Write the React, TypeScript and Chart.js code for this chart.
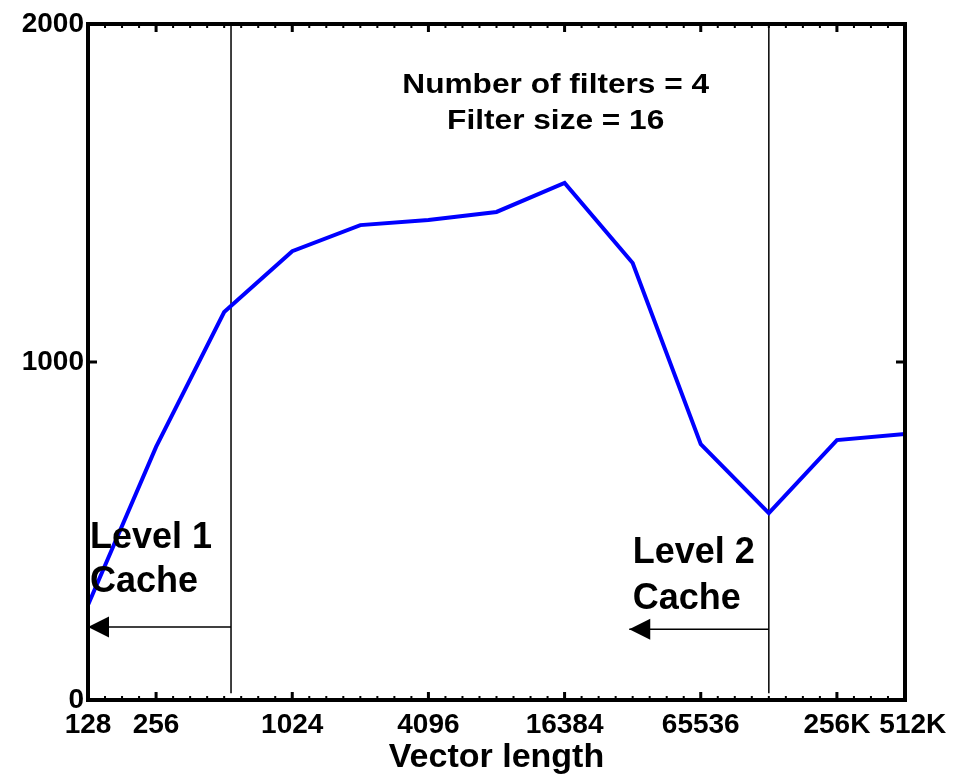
import React, { useEffect, useRef } from "react";
import { Chart, registerables } from "chart.js";

Chart.register(...registerables);

// ---- data ----
const vectorLengths = [128, 256, 512, 1024, 2048, 4096, 8192, 16384, 32768, 65536, 131072, 262144, 524288];
const throughput = [281, 749, 1148, 1328, 1405, 1420, 1444, 1530, 1293, 757, 553, 769, 787];

const xTickValues = [128, 256, 1024, 4096, 16384, 65536, 262144, 524288];
const xTickLabels = ["128", "256", "1024", "4096", "16384", "65536", "256K", "  512K"];
const yTickValues = [0, 1000, 2000];
const yTickLabels = ["0", "1000", "2000"];

// cache boundary vertical lines (vector length) and their vertical extent
const cacheBoundaries = [549, 131072];
const boundaryRange = [20, 2000];

// arrows: start (boundary), tip, height
const arrowFrom = [549, 131072];
const arrowTo = [128, 31650];
const arrowY = [216, 209];

// cache labels
const cacheLabelLines = [["Level 1", "Cache"], ["Level 2", "Cache"]];
const cacheLabelX = [130.7, 32768];
const cacheLabelY = [[450, 320], [405, 269]];

// parameter annotation
const paramLines = ["Number of filters = 4", "Filter size = 16"];
const paramX = 14970;
const paramY = [1796, 1689];

const FONT = '"Liberation Sans", Arial, Helvetica, sans-serif';

const decorPlugin = {
  id: "decor",
  afterDatasetsDraw(chart: any) {
    const { ctx, chartArea: a, scales } = chart;
    const x = scales.x;
    const y = scales.y;
    ctx.save();
    ctx.strokeStyle = "#000";
    ctx.fillStyle = "#000";

    // minor ticks (quarter octave)
    ctx.lineWidth = 2;
    const majorSet = new Set(xTickValues.map((v) => Math.round(Math.log2(v) * 4)));
    for (let k = 28; k <= 76; k++) {
      if (majorSet.has(k)) continue;
      const px = x.getPixelForValue(Math.pow(2, k / 4));
      if (px <= a.left + 2 || px >= a.right - 2) continue;
      ctx.beginPath();
      ctx.moveTo(px, a.bottom);
      ctx.lineTo(px, a.bottom - 4);
      ctx.moveTo(px, a.top);
      ctx.lineTo(px, a.top + 4);
      ctx.stroke();
    }

    // major ticks
    ctx.lineWidth = 3;
    for (const v of xTickValues) {
      const px = x.getPixelForValue(v);
      ctx.beginPath();
      ctx.moveTo(px, a.bottom);
      ctx.lineTo(px, a.bottom - 8);
      ctx.moveTo(px, a.top);
      ctx.lineTo(px, a.top + 8);
      ctx.stroke();
    }
    for (const v of yTickValues) {
      const py = y.getPixelForValue(v);
      ctx.beginPath();
      ctx.moveTo(a.left, py);
      ctx.lineTo(a.left + 9, py);
      ctx.moveTo(a.right, py);
      ctx.lineTo(a.right - 9, py);
      ctx.stroke();
    }

    // frame
    ctx.lineWidth = 4;
    ctx.strokeRect(a.left, a.top, a.right - a.left, a.bottom - a.top);

    // arrowheads
    for (let i = 0; i < arrowTo.length; i++) {
      const tx = x.getPixelForValue(arrowTo[i]);
      const ty = y.getPixelForValue(arrowY[i]);
      ctx.beginPath();
      ctx.moveTo(tx, ty);
      ctx.lineTo(tx + 21, ty - 10.5);
      ctx.lineTo(tx + 21, ty + 10.5);
      ctx.closePath();
      ctx.fill();
    }

    // cache labels
    ctx.font = `bold 36px ${FONT}`;
    ctx.textAlign = "left";
    ctx.textBaseline = "alphabetic";
    for (let i = 0; i < cacheLabelLines.length; i++) {
      const px = x.getPixelForValue(cacheLabelX[i]);
      cacheLabelLines[i].forEach((t, j) => {
        ctx.fillText(t, px, y.getPixelForValue(cacheLabelY[i][j]));
      });
    }

    // parameter annotation (slightly wide lettering, as in the original)
    ctx.font = `bold 28px ${FONT}`;
    ctx.textAlign = "center";
    const cx = x.getPixelForValue(paramX);
    const sx = 1.13;
    paramLines.forEach((t, j) => {
      ctx.save();
      ctx.translate(cx, y.getPixelForValue(paramY[j]));
      ctx.scale(sx, 1);
      ctx.fillText(t, 0, 0);
      ctx.restore();
    });

    ctx.restore();
  },
};

export default function App() {
  const ref = useRef<HTMLCanvasElement | null>(null);

  useEffect(() => {
    if (!ref.current) return;
    const datasets: any[] = [
      {
        label: "Throughput",
        data: vectorLengths.map((v, i) => ({ x: v, y: throughput[i] })),
        borderColor: "#0000ff",
        borderWidth: 4,
        pointRadius: 0,
        tension: 0,
        borderJoinStyle: "miter",
      },
    ];
    cacheBoundaries.forEach((b) => {
      datasets.push({
        label: "boundary",
        data: boundaryRange.map((yy) => ({ x: b, y: yy })),
        borderColor: "#000",
        borderWidth: 1.5,
        pointRadius: 0,
      });
    });
    arrowFrom.forEach((f, i) => {
      datasets.push({
        label: "arrow",
        data: [
          { x: f, y: arrowY[i] },
          { x: arrowTo[i], y: arrowY[i] },
        ],
        borderColor: "#000",
        borderWidth: 1.5,
        pointRadius: 0,
      });
    });

    const chart = new Chart(ref.current, {
      type: "line",
      data: { datasets },
      plugins: [decorPlugin],
      options: {
        animation: false,
        responsive: false,
        maintainAspectRatio: false,
        layout: { padding: { top: 24, right: 64, left: 0, bottom: 0 } },
        plugins: { legend: { display: false }, tooltip: { enabled: false } },
        scales: {
          x: {
            type: "logarithmic",
            min: 128,
            max: 524288,
            grid: { display: false, drawTicks: false },
            border: { display: false },
            afterBuildTicks: (s: any) => {
              s.ticks = xTickValues.map((v) => ({ value: v }));
            },
            afterFit: (s: any) => {
              s.height = 80;
            },
            ticks: {
              autoSkip: false,
              maxRotation: 0,
              padding: 8,
              color: "#000",
              font: { family: FONT, size: 28, weight: "bold" },
              callback: (v: any) => {
                const i = xTickValues.indexOf(Number(v));
                return i >= 0 ? xTickLabels[i] : "";
              },
            },
            title: {
              display: true,
              text: "Vector length",
              color: "#000",
              font: { family: FONT, size: 34, weight: "bold" },
              padding: { top: 0, bottom: 2 },
            },
          },
          y: {
            type: "linear",
            min: 0,
            max: 2000,
            grid: { display: false, drawTicks: false },
            border: { display: false },
            afterBuildTicks: (s: any) => {
              s.ticks = yTickValues.map((v) => ({ value: v }));
            },
            afterFit: (s: any) => {
              s.width = 88;
            },
            ticks: {
              padding: 4,
              color: "#000",
              font: { family: FONT, size: 28, weight: "bold" },
              callback: (v: any) => {
                const i = yTickValues.indexOf(Number(v));
                return i >= 0 ? yTickLabels[i] : "";
              },
            },
          },
        },
      },
    });
    return () => chart.destroy();
  }, []);

  return (
    <div style={{ position: "absolute", left: 0, top: 0, width: 969, height: 780, background: "#fff" }}>
      <canvas ref={ref} width={969} height={780} style={{ width: 969, height: 780 }} />
    </div>
  );
}
